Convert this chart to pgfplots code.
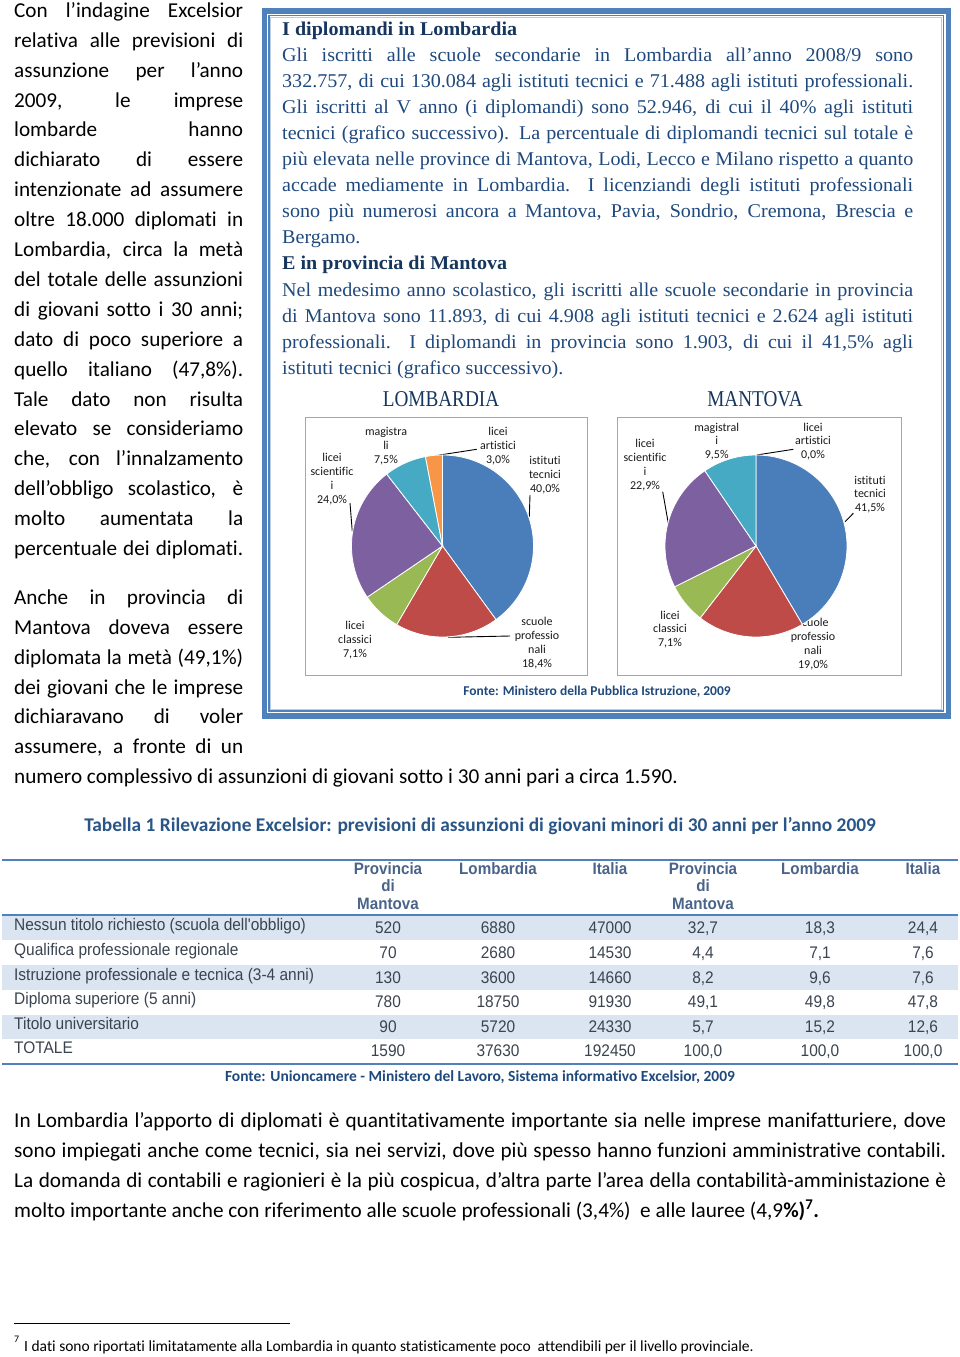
\documentclass[border=0pt]{standalone}
\usepackage{pgfplots}
\pgfplotsset{compat=1.18}
\usepackage{fontspec}
\setmainfont[Ligatures={NoCommon}]{Carlito}
\newfontfamily\calf[Ligatures={NoCommon}]{Carlito}
\newfontfamily\ser[FakeStretch=1.03]{Liberation Serif}
\newfontfamily\sertit[FakeStretch=0.85]{Liberation Serif}
\newfontfamily\ari[FakeStretch=0.92]{Liberation Sans}
\definecolor{boxblue}{HTML}{4F81BD}
\definecolor{boxlight}{HTML}{B8CCE4}
\definecolor{titleblue}{HTML}{17365D}
\definecolor{txtblue}{HTML}{1F497D}
\definecolor{tabtitle}{HTML}{2A5587}
\definecolor{tabhead}{HTML}{4A6489}
\definecolor{tabtxt}{HTML}{3A4350}
\definecolor{rowfill}{HTML}{DBE5F1}
\definecolor{pblue}{HTML}{4A7EBB}
\definecolor{pred}{HTML}{BE4B48}
\definecolor{pgreen}{HTML}{98B954}
\definecolor{ppurple}{HTML}{7D60A0}
\definecolor{pteal}{HTML}{46AAC5}
\definecolor{porange}{HTML}{F79646}
\hbadness=10000 \hfuzz=100pt
% justified line: font, x, baseline y, width, text
\newcommand\Jl[5]{\node[anchor=base west,inner sep=0pt,font=#1] at (#2,#3) {\hbox to #4pt{#5}};}
\newcommand\Fl[4]{\node[anchor=base west,inner sep=0pt,font=#1] at (#2,#3) {#4};}
\newcommand\Cl[4]{\node[anchor=base,inner sep=0pt,font=#1] at (#2,#3) {#4};}
% table row: baseline y, six cells
\newcommand\Row[7]{\Cl{\R}{388}{#1}{#2}\Cl{\R}{498}{#1}{#3}\Cl{\R}{610}{#1}{#4}%
 \Cl{\R}{703}{#1}{#5}\Cl{\R}{820}{#1}{#6}\Cl{\R}{923}{#1}{#7}}
% pie slice from cumulative percent #1 to #2
\newcommand\slice[3]{\addplot[fill=#3, draw=white, line width=0.8pt, domain=3.6*#1:3.6*#2, samples=80]
   ({sin(x)},{cos(x)}) -- (axis cs:0,0) -- cycle;}
\begin{document}
\begin{tikzpicture}
\begin{scope}[x=1pt,y=-1pt]
\path[use as bounding box] (0,0) rectangle (960,1357);
\def\B{\calf\fontsize{21.2}{25}\selectfont}
\def\W{229}
\Jl{\B}{14}{17.3}{\W}{Con l’indagine Excelsior}
\Jl{\B}{14}{47.2}{\W}{relativa alle previsioni di}
\Jl{\B}{14}{77.1}{\W}{assunzione per l’anno}
\Jl{\B}{14}{107}{\W}{2009, le imprese}
\Jl{\B}{14}{136.9}{\W}{lombarde hanno}
\Jl{\B}{14}{166.8}{\W}{dichiarato di essere}
\Jl{\B}{14}{196.7}{\W}{intenzionate ad assumere}
\Jl{\B}{14}{226.6}{\W}{oltre 18.000 diplomati in}
\Jl{\B}{14}{256.5}{\W}{Lombardia, circa la metà}
\Jl{\B}{14}{286.4}{\W}{del totale delle assunzioni}
\Jl{\B}{14}{316.3}{\W}{di giovani sotto i 30 anni;}
\Jl{\B}{14}{346.2}{\W}{dato di poco superiore a}
\Jl{\B}{14}{376.1}{\W}{quello italiano (47,8\%).}
\Jl{\B}{14}{406}{\W}{Tale dato non risulta}
\Jl{\B}{14}{435.9}{\W}{elevato se consideriamo}
\Jl{\B}{14}{465.8}{\W}{che, con l’innalzamento}
\Jl{\B}{14}{495.7}{\W}{dell’obbligo scolastico, è}
\Jl{\B}{14}{525.6}{\W}{molto aumentata la}
\Jl{\B}{14}{555.5}{\W}{percentuale dei diplomati.}
\Jl{\B}{14}{604.3}{\W}{Anche in provincia di}
\Jl{\B}{14}{634.2}{\W}{Mantova doveva essere}
\Jl{\B}{14}{664.1}{\W}{diplomata la metà (49,1\%)}
\Jl{\B}{14}{694}{\W}{dei giovani che le imprese}
\Jl{\B}{14}{723.9}{\W}{dichiaravano di voler}
\Jl{\B}{14}{753.8}{\W}{assumere, a fronte di un}
\Fl{\B}{14}{783.7}{numero complessivo di assunzioni di giovani sotto i 30 anni pari a circa 1.590.}
% box
\draw[boxblue, line width=5.5pt] (264.5,10.8) rectangle (948.3,716);
\draw[boxblue, line width=1.2pt] (269,15.5) rectangle (943.5,711);
\draw[boxlight, line width=1pt] (270.8,17.3) rectangle (941.7,709.2);
\def\S{\ser\fontsize{19.5}{22}\selectfont\color{txtblue}}
\def\T{\ser\bfseries\fontsize{19.5}{22}\selectfont\color{titleblue}}
\def\V{631}
\Fl{\T}{282}{35}{I diplomandi in Lombardia}
\Jl{\S}{282}{61.1}{\V}{Gli iscritti alle scuole secondarie in Lombardia all’anno 2008/9 sono}
\Jl{\S}{282}{87.2}{\V}{332.757, di cui 130.084 agli istituti tecnici e 71.488 agli istituti professionali.}
\Jl{\S}{282}{113.3}{\V}{Gli iscritti al V anno (i diplomandi) sono 52.946, di cui il 40\% agli istituti}
\Jl{\S}{282}{139.4}{\V}{tecnici (grafico successivo). La percentuale di diplomandi tecnici sul totale è}
\Jl{\S}{282}{165.5}{\V}{più elevata nelle province di Mantova, Lodi, Lecco e Milano rispetto a quanto}
\Jl{\S}{282}{191.6}{\V}{accade mediamente in Lombardia.\ \ I licenziandi degli istituti professionali}
\Jl{\S}{282}{217.7}{\V}{sono più numerosi ancora a Mantova, Pavia, Sondrio, Cremona, Brescia e}
\Fl{\S}{282}{243.8}{Bergamo.}
\Fl{\T}{282}{269.9}{E in provincia di Mantova}
\Jl{\S}{282}{296}{\V}{Nel medesimo anno scolastico, gli iscritti alle scuole secondarie in provincia}
\Jl{\S}{282}{322.1}{\V}{di Mantova sono 11.893, di cui 4.908 agli istituti tecnici e 2.624 agli istituti}
\Jl{\S}{282}{348.2}{\V}{professionali.\ \ I diplomandi in provincia sono 1.903, di cui il 41,5\% agli}
\Fl{\S}{282}{374.3}{istituti tecnici (grafico successivo).}
% pie titles and frames
\Cl{\sertit\fontsize{22.6}{26}\selectfont\color{titleblue}}{441}{406}{LOMBARDIA}
\Cl{\sertit\fontsize{22.6}{26}\selectfont\color{titleblue}}{755}{406}{MANTOVA}
\draw[gray!70, line width=1pt] (305,417) rectangle (587,675);
\draw[gray!70, line width=1pt] (617,417) rectangle (901,675);
\Cl{\calf\bfseries\fontsize{13.5}{16}\selectfont\color{txtblue}}{597}{695}{Fonte: Ministero della Pubblica Istruzione, 2009}
% pie labels
\tikzset{pl/.style={align=center,inner sep=0pt,font=\calf\fontsize{12}{13.8}\selectfont,text=black!90}}
\node[pl] at (386,446) {magistra\\li\\7,5\%};
\node[pl] at (498,446) {licei\\artistici\\3,0\%};
\node[pl] at (545,475) {istituti\\tecnici\\40,0\%};
\node[pl] at (332,479) {licei\\scientific\\i\\24,0\%};
\node[pl] at (355,640) {licei\\classici\\7,1\%};
\node[pl] at (537,643) {scuole\\professio\\nali\\18,4\%};
\draw[black, line width=0.9pt] (433.3,456) -- (476.7,449.3);
\draw[black, line width=0.9pt] (530,495) -- (529.3,516.7);
\draw[black, line width=0.9pt] (350,503) -- (352.3,531.7);
\draw[black, line width=0.9pt] (448.3,637.3) -- (510,636);
\node[pl] at (716.7,441.5) {magistral\\i\\9,5\%};
\node[pl] at (813,441.5) {licei\\artistici\\0,0\%};
\node[pl] at (645,465) {licei\\scientific\\i\\22,9\%};
\node[pl] at (870,494.5) {istituti\\tecnici\\41,5\%};
\node[pl] at (670,629.5) {licei\\classici\\7,1\%};
\node[pl] at (813,644) {scuole\\professio\\nali\\19,0\%};
\draw[black, line width=0.9pt] (756.7,455) -- (793.3,449.3);
\draw[black, line width=0.9pt] (845,521.7) -- (853.3,513.3);
\draw[black, line width=0.9pt] (662.7,491.7) -- (668.3,523.3);
% table
\Cl{\calf\bfseries\fontsize{19.4}{22}\selectfont\color{tabtitle}}{480}{831}{Tabella 1 Rilevazione Excelsior: previsioni di assunzioni di giovani minori di 30 anni per l’anno 2009}
\fill[rowfill] (2,916) rectangle (958,940);
\fill[rowfill] (2,965) rectangle (958,990);
\fill[rowfill] (2,1015) rectangle (958,1039);
\draw[boxblue, line width=2.5pt] (2,860) -- (958,860);
\draw[boxblue, line width=2.5pt] (2,915) -- (958,915);
\draw[boxblue, line width=2.5pt] (2,1064) -- (958,1064);
\def\H{\ari\bfseries\fontsize{16.5}{18}\selectfont\color{tabhead}}
\def\R{\ari\fontsize{16.8}{18}\selectfont\color{tabtxt}}
\Cl{\H}{388}{874.5}{Provincia}\Cl{\H}{388}{891.5}{di}\Cl{\H}{388}{909.5}{Mantova}
\Cl{\H}{498}{874.5}{Lombardia}
\Cl{\H}{610}{874.5}{Italia}
\Cl{\H}{703}{874.5}{Provincia}\Cl{\H}{703}{891.5}{di}\Cl{\H}{703}{909.5}{Mantova}
\Cl{\H}{820}{874.5}{Lombardia}
\Cl{\H}{923}{874.5}{Italia}
\Fl{\R}{14}{930.5}{Nessun titolo richiesto (scuola dell'obbligo)}
\Fl{\R}{14}{955.5}{Qualifica professionale regionale}
\Fl{\R}{14}{980}{Istruzione professionale e tecnica (3-4 anni)}
\Fl{\R}{14}{1004.5}{Diploma superiore (5 anni)}
\Fl{\R}{14}{1029}{Titolo universitario}
\Fl{\R}{14}{1053.5}{TOTALE}
\Row{933.5}{520}{6880}{47000}{32,7}{18,3}{24,4}
\Row{958.5}{70}{2680}{14530}{4,4}{7,1}{7,6}
\Row{983.5}{130}{3600}{14660}{8,2}{9,6}{7,6}
\Row{1007.5}{780}{18750}{91930}{49,1}{49,8}{47,8}
\Row{1032.5}{90}{5720}{24330}{5,7}{15,2}{12,6}
\Row{1056.5}{1590}{37630}{192450}{100,0}{100,0}{100,0}
\Cl{\calf\bfseries\fontsize{15.5}{17}\selectfont\color{txtblue}}{480}{1081}{Fonte: Unioncamere - Ministero del Lavoro, Sistema informativo Excelsior, 2009}
% bottom paragraph
\def\Q{932}
\Jl{\B}{14}{1127.3}{\Q}{In Lombardia l’apporto di diplomati è quantitativamente importante sia nelle imprese manifatturiere, dove}
\Jl{\B}{14}{1157.2}{\Q}{sono impiegati anche come tecnici, sia nei servizi, dove più spesso hanno funzioni amministrative contabili.}
\Jl{\B}{14}{1187.1}{\Q}{La domanda di contabili e ragionieri è la più cospicua, d’altra parte l’area della contabilità-amministazione è}
\Fl{\B}{14}{1217}{molto importante anche con riferimento alle scuole professionali (3,4\%)\ \ e alle lauree (4,9\textbf{\%)}\textsuperscript{\textbf{7}}\textbf{.}}
% footnote
\draw[black, line width=1pt] (14,1323) -- (290,1323);
\Fl{\calf\fontsize{10}{11}\selectfont}{14}{1342}{7}
\Fl{\calf\fontsize{15.5}{17}\selectfont}{24}{1351}{I dati sono riportati limitatamente alla Lombardia in quanto statisticamente poco\ \ attendibili per il livello provinciale.}
\end{scope}
% pies
\begin{axis}[at={(442.5pt,-546pt)}, anchor=center, width=182pt, height=182pt, scale only axis,
  hide axis, xmin=-1, xmax=1, ymin=-1, ymax=1, clip=false]
\slice{0}{40}{pblue}
\slice{40}{58.4}{pred}
\slice{58.4}{65.5}{pgreen}
\slice{65.5}{89.5}{ppurple}
\slice{89.5}{97}{pteal}
\slice{97}{100}{porange}
\end{axis}
\begin{axis}[at={(756pt,-546pt)}, anchor=center, width=182pt, height=182pt, scale only axis,
  hide axis, xmin=-1, xmax=1, ymin=-1, ymax=1, clip=false]
\slice{0}{41.5}{pblue}
\slice{41.5}{60.5}{pred}
\slice{60.5}{67.6}{pgreen}
\slice{67.6}{90.5}{ppurple}
\slice{90.5}{100}{pteal}
\end{axis}
\end{tikzpicture}
\end{document}
